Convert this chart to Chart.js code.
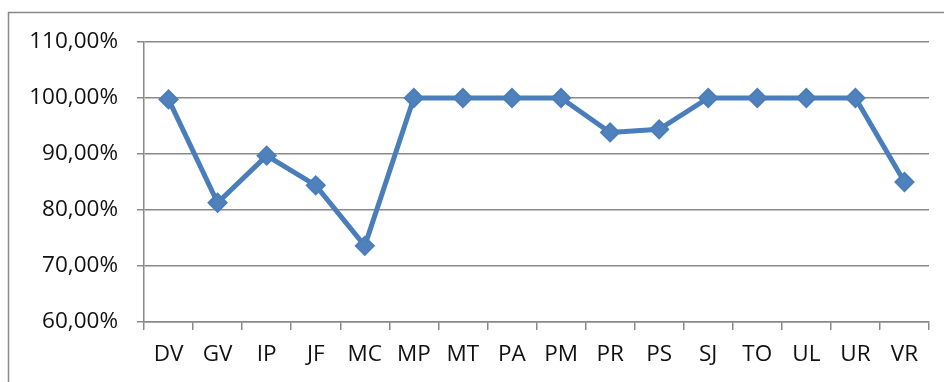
<!DOCTYPE html>
<html>
<head>
<meta charset="utf-8">
<script src="https://cdn.jsdelivr.net/npm/chart.js@4/dist/chart.umd.min.js"></script>
<style>
  html, body { margin: 0; padding: 0; background: #fff; }
  #wrap { position: relative; width: 944px; height: 382px; }
</style>
</head>
<body>
<div id="wrap"><canvas id="c" width="944" height="382"></canvas></div>
<script>
const categories = ['DV','GV','IP','JF','MC','MP','MT','PA','PM','PR','PS','SJ','TO','UL','UR','VR'];
const values = [99.75, 81.3, 89.7, 84.4, 73.6, 100, 100, 100, 100, 93.85, 94.4, 100, 100, 100, 100, 85.0];
const yTicks = [60, 70, 80, 90, 100, 110];

const GRID = '#898989';
const TEXT = '#111111';
const FONT = { family: "'Open Sans', 'DejaVu Sans', sans-serif", size: 22.5 };

const framePlugin = {
  id: 'frame',
  beforeDraw(chart) {
    const ctx = chart.ctx;
    ctx.save();
    ctx.fillStyle = '#fff';
    ctx.fillRect(0, 0, chart.width, chart.height);
    ctx.strokeStyle = GRID;
    ctx.lineWidth = 1.5;
    ctx.beginPath();
    ctx.moveTo(8.5, chart.height);
    ctx.lineTo(8.5, 12.5);
    ctx.lineTo(chart.width, 12.5);
    ctx.stroke();
    ctx.restore();
  }
};

new Chart(document.getElementById('c'), {
  type: 'line',
  data: {
    labels: categories,
    datasets: [{
      data: values,
      borderColor: '#4A7EBB',
      backgroundColor: '#4F81BD',
      borderWidth: 5,
      pointStyle: 'rectRot',
      pointRadius: 9,
      pointBorderWidth: 2,
      pointBorderColor: '#4A7EBB',
      pointBackgroundColor: '#4F81BD',
      tension: 0,
      fill: false
    }]
  },
  options: {
    responsive: false,
    animation: false,
    layout: { padding: { left: 0, right: 15, top: 42, bottom: 0 } },
    plugins: { legend: { display: false }, tooltip: { enabled: false } },
    scales: {
      x: {
        offset: true,
        grid: { offset: true, drawOnChartArea: false, drawTicks: true, tickLength: 8, color: GRID, lineWidth: 1.5 },
        border: { display: true, color: GRID, width: 1.5 },
        ticks: { color: TEXT, font: FONT, padding: 11, maxRotation: 0, autoSkip: false },
        afterFit(scale) { scale.height = 60; }
      },
      y: {
        min: 60, max: 110,
        afterBuildTicks(scale) { scale.ticks = yTicks.map(v => ({ value: v })); },
        grid: { color: GRID, lineWidth: 1.5, tickLength: 7, drawTicks: true },
        border: { display: true, color: GRID, width: 1.5 },
        ticks: {
          color: TEXT, font: FONT, padding: 19,
          callback: v => v.toFixed(2).replace('.', ',') + '%'
        },
        afterFit(scale) { scale.width = 144; }
      }
    }
  },
  plugins: [framePlugin]
});
</script>
</body>
</html>
